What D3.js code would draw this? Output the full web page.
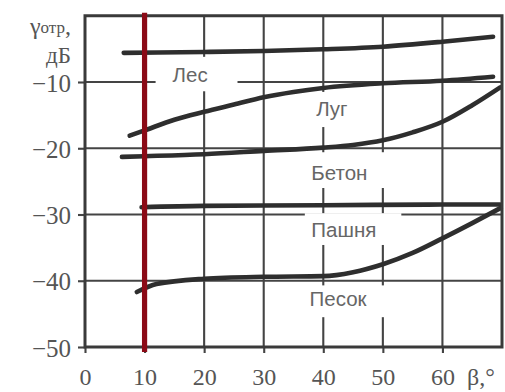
<!DOCTYPE html>
<html>
<head>
<meta charset="utf-8">
<script src="https://cdn.jsdelivr.net/npm/d3@7"></script>
<style>
  html, body { margin: 0; padding: 0; background: #fff; }
  svg { display: block; }
</style>
</head>
<body>
<svg id="chart" width="505" height="392"></svg>
<script>
// Reflection coefficient of surfaces vs. grazing angle
const categories = ["Лес", "Луг", "Бетон", "Пашня", "Песок"];

const lesX = [6.5, 20, 30, 40, 50, 60, 68.5];
const lesY = [-5.6, -5.47, -5.32, -5.06, -4.67, -3.92, -3.16];

const lugX = [7.5, 10, 15, 20, 25, 30, 35, 40, 50, 60, 68.5];
const lugY = [-18.1, -17.3, -15.7, -14.5, -13.4, -12.3, -11.5, -10.9, -10.2, -9.8, -9.2];

const betonX = [6.2, 10, 20, 30, 40, 45, 50, 55, 60, 65, 69.7];
const betonY = [-21.3, -21.2, -20.9, -20.4, -19.9, -19.5, -18.8, -17.6, -16.0, -13.5, -10.8];

const pashnyaX = [9.5, 20, 40, 60, 69.7];
const pashnyaY = [-28.9, -28.7, -28.6, -28.5, -28.5];

const pesokX = [8.7, 12, 20, 30, 40, 45, 50, 55, 60, 65, 69.8];
const pesokY = [-41.7, -40.5, -39.7, -39.4, -39.3, -38.7, -37.5, -35.8, -33.6, -31.3, -29.0];

const xTicks = [0, 10, 20, 30, 40, 50, 60];
const yTicks = [-10, -20, -30, -40, -50];
const markedAngle = 10;

const seriesX = [lesX, lugX, betonX, pashnyaX, pesokX];
const seriesY = [lesY, lugY, betonY, pashnyaY, pesokY];

// label anchors (data units) and the clear zones that break the grid round them
const labelX = [14.7, 38.8, 38.0, 38.0, 37.7];
const labelY = [-10.0, -15.1, -24.8, -33.4, -43.8];
const clearX0 = [11.85, 36.9, 36.5, 36.9, 36.5];
const clearX1 = [25.6, 46.8, 52.0, 53.1, 52.0];
const clearY0 = [-6.2, -11.5, -20.6, -29.8, -40.7];
const clearY1 = [-11.4, -16.8, -26.0, -34.6, -45.5];

const svg = d3.select("#chart");
const x = d3.scaleLinear().domain([0, 70]).range([85, 502]);
const y = d3.scaleLinear().domain([-50, 0]).range([347, 15.75]);

const ink = "#2e2e2e";
const grid = svg.append("g");

// grid lines
grid.selectAll("line.h").data(yTicks.filter(d => d > -50)).join("line")
  .attr("x1", x(0)).attr("x2", x(70))
  .attr("y1", d => y(d)).attr("y2", d => y(d))
  .attr("stroke", "#444").attr("stroke-width", 2.1);
grid.selectAll("line.v").data(xTicks.filter(d => d > 0)).join("line")
  .attr("x1", d => x(d)).attr("x2", d => x(d))
  .attr("y1", y(-50)).attr("y2", y(0))
  .attr("stroke", "#444").attr("stroke-width", 2.1);

// clear zones around the labels
svg.append("g").selectAll("rect").data(categories).join("rect")
  .attr("x", (d, i) => x(clearX0[i]))
  .attr("y", (d, i) => y(clearY0[i]))
  .attr("width", (d, i) => x(clearX1[i]) - x(clearX0[i]))
  .attr("height", (d, i) => y(clearY1[i]) - y(clearY0[i]))
  .attr("fill", "#fff");

// axes
const serif = "'Liberation Serif', 'DejaVu Serif', serif";
const yAxis = d3.axisLeft(y).tickValues(yTicks).tickSize(7).tickPadding(7)
  .tickFormat(d => "\u2212" + Math.abs(d));
const gy = svg.append("g").attr("transform", `translate(${x(0)},0)`).call(yAxis);
const xAxis = d3.axisBottom(x).tickValues(xTicks).tickSize(6).tickPadding(15)
  .tickFormat(d3.format("d"));
const gx = svg.append("g").attr("transform", `translate(0,${y(-50)})`).call(xAxis);
[gx, gy].forEach(g => {
  g.select(".domain").remove();
  g.selectAll(".tick line").attr("stroke", "#444").attr("stroke-width", 2.1);
  g.selectAll(".tick text")
    .attr("fill", "#555")
    .attr("font-family", serif)
    .attr("font-size", 25);
});
gx.selectAll(".tick text").attr("font-size", 24);
gy.selectAll(".tick text").attr("dy", "0.36em");

// curves
const line = d3.line().curve(d3.curveMonotoneX).x(d => x(d[0])).y(d => y(d[1]));
svg.append("g").selectAll("path").data(categories).join("path")
  .attr("d", (d, i) => line(seriesX[i].map((v, k) => [v, seriesY[i][k]])))
  .attr("fill", "none").attr("stroke", ink).attr("stroke-width", 4.6)
  .attr("stroke-linecap", "round").attr("stroke-linejoin", "round");

// curve labels
svg.append("g").selectAll("text").data(categories).join("text")
  .attr("x", (d, i) => x(labelX[i]))
  .attr("y", (d, i) => y(labelY[i]))
  .attr("fill", "#666")
  .attr("font-family", "'Liberation Sans', Arial, sans-serif")
  .attr("font-size", 20.5)
  .text(d => d);

// plot frame
svg.append("rect")
  .attr("x", x(0)).attr("y", y(0))
  .attr("width", x(70) - x(0)).attr("height", y(-50) - y(0))
  .attr("fill", "none").attr("stroke", "#3a3a3a").attr("stroke-width", 3);

// axis titles
const yt = svg.append("text").attr("x", 71).attr("y", 34)
  .attr("text-anchor", "end").attr("fill", "#555")
  .attr("font-family", serif).attr("font-size", 24);
yt.append("tspan").text("γ");
yt.append("tspan").attr("font-size", 17).attr("dy", -1).text("отр");
yt.append("tspan").attr("dy", 1).text(",");
svg.append("text").attr("x", 71).attr("y", 63)
  .attr("text-anchor", "end").attr("fill", "#555")
  .attr("font-family", serif).attr("font-size", 23).text("дБ");
svg.append("text").attr("x", 467).attr("y", 385)
  .attr("fill", "#555").attr("font-family", serif).attr("font-size", 24).text("β,°");

// marked angle
svg.append("line")
  .attr("x1", x(markedAngle)).attr("x2", x(markedAngle))
  .attr("y1", y(0) - 3).attr("y2", y(-50) + 5)
  .attr("stroke", "#8b0a16").attr("stroke-width", 5.2);
</script>
</body>
</html>
